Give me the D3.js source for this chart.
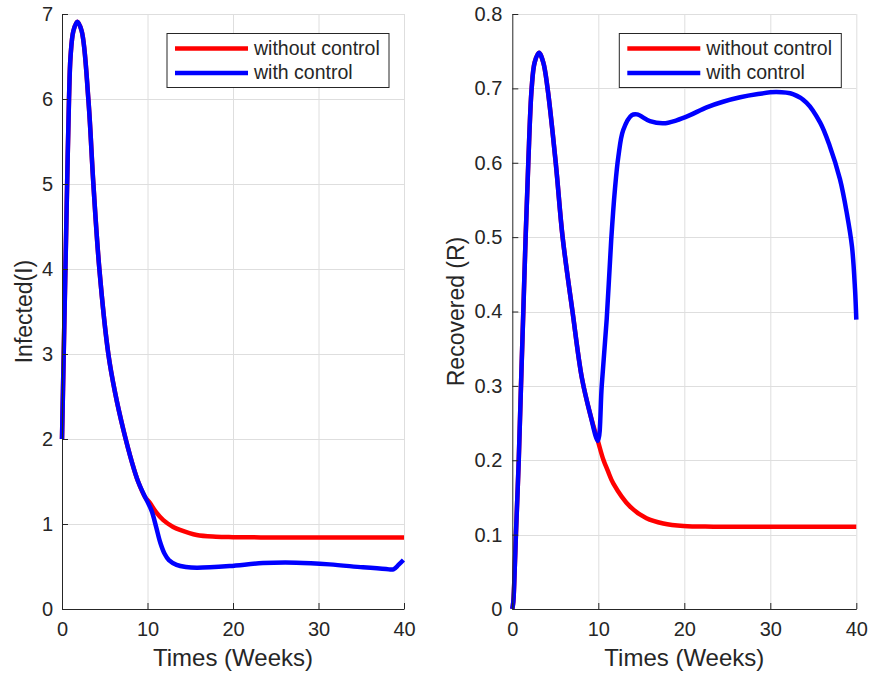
<!DOCTYPE html>
<html lang="en">
<head>
<meta charset="UTF-8">
<title>Infected and Recovered</title>
<script src="https://d3js.org/d3.v7.min.js"></script>
<style>
  body { margin: 0; background: #fff; }
  text { font-family: "Liberation Sans", Arial, sans-serif; fill: #262626; }
  .grid line { stroke: #dedede; stroke-width: 1; }
  .axis path, .axis line { stroke: #262626; stroke-width: 1; }
  .curve { fill: none; stroke-width: 4.5; stroke-linejoin: round; }
</style>
</head>
<body>
<script>
// ticks
var weekTicks = [0, 10, 20, 30, 40];
var infectedTicks = [0, 1, 2, 3, 4, 5, 6, 7];
var recoveredTicks = [0, 0.1, 0.2, 0.3, 0.4, 0.5, 0.6, 0.7, 0.8];
var legendLabels = ["without control", "with control"];

// Infected: both runs are the same until week ~10
var infTimeEarly = [0, 0.2, 0.4, 0.6, 0.82, 1.0, 1.33, 1.79, 2.3, 3.08, 3.67, 4.37, 5.42, 6.2, 7.2, 8.2, 8.9, 9.7];
var infEarly = [2, 3, 4, 5, 6, 6.5, 6.8, 6.91, 6.8, 6, 5, 4, 3, 2.55, 2.1, 1.72, 1.5, 1.32];
var infTimeNoCtrl = [10.3, 11, 11.85, 13, 13.8, 15.75, 18, 20, 25, 30, 35, 40];
var infNoCtrl = [1.245, 1.14, 1.045, 0.965, 0.93, 0.87, 0.85, 0.845, 0.842, 0.842, 0.842, 0.842];
var infTimeCtrl = [10, 10.5, 11, 11.5, 12, 12.5, 13.4, 14.5, 15.75, 19.6, 23.5, 27.4, 31.3, 35.2, 37.9, 38.76, 39.35, 39.93];
var infCtrl = [1.26, 1.15, 0.97, 0.78, 0.65, 0.575, 0.52, 0.495, 0.486, 0.505, 0.54, 0.545, 0.525, 0.49, 0.47, 0.467, 0.518, 0.576];

// Recovered
var recTimeEarly = [0, 0.12, 0.3, 0.42, 0.75, 1.01, 1.28, 1.55, 1.86, 2.25, 2.6, 3.1, 3.6, 4.1, 5.05, 5.85, 7.0, 8.1, 9.1, 9.95];
var recEarly = [0, 0.01, 0.06, 0.1, 0.2, 0.3, 0.4, 0.5, 0.6, 0.7, 0.735, 0.748, 0.735, 0.7, 0.6, 0.5, 0.4, 0.31, 0.26, 0.226];
var recTimeNoCtrl = [10.58, 11.1, 11.74, 13.7, 15.6, 17.56, 19.9, 23.4, 30, 40];
var recNoCtrl = [0.201, 0.186, 0.169, 0.1376, 0.122, 0.115, 0.1116, 0.1107, 0.1105, 0.1105];
var recTimeCtrl = [10.4, 10.98, 11.5, 11.94, 12.33, 12.9, 13.9, 14.5, 16.0, 17.56, 19.1, 20.66, 22.6, 24.5, 26.5, 28.4, 30.7, 32.7, 34.2, 35.8, 36.9, 38.1, 38.9, 39.5, 39.85, 40];
var recCtrl = [0.3, 0.39, 0.496, 0.565, 0.608, 0.644, 0.664, 0.665, 0.656, 0.653, 0.657, 0.664, 0.6745, 0.682, 0.688, 0.692, 0.695, 0.692, 0.681, 0.654, 0.623, 0.578, 0.532, 0.487, 0.43, 0.389];

function pairs(ts, vs) {
    return ts.map(function(t, i) { return [t, vs[i]]; });
}

var svg = d3.select("body").append("svg")
    .attr("width", 869).attr("height", 673);

function drawPanel(p) {
    var x = d3.scaleLinear().domain([0, 40]).range([p.left, p.right]);
    var y = d3.scaleLinear().domain(p.yDomain).range([609, 14]);
    var g = svg.append("g");

    // grid
    var grid = g.append("g").attr("class", "grid");
    grid.selectAll("line.gx").data(weekTicks.slice(1)).enter().append("line")
        .attr("x1", function(d) { return x(d) + 0.5; })
        .attr("x2", function(d) { return x(d) + 0.5; })
        .attr("y1", y.range()[0]).attr("y2", y.range()[1]);
    grid.selectAll("line.gy").data(p.ticks.slice(1)).enter().append("line")
        .attr("y1", function(d) { return Math.round(y(d)) + 0.5; })
        .attr("y2", function(d) { return Math.round(y(d)) + 0.5; })
        .attr("x1", p.left).attr("x2", p.right);

    // curves
    var line = d3.line()
        .x(function(d) { return x(d[0]); })
        .y(function(d) { return y(d[1]); })
        .curve(d3.curveCatmullRom.alpha(0.5));
    var early = pairs(p.tEarly, p.vEarly);
    g.append("path").attr("class", "curve").attr("stroke", "#ff0000")
        .attr("d", line(early.concat(pairs(p.tNo, p.vNo))));
    g.append("path").attr("class", "curve").attr("stroke", "#0000ff")
        .attr("d", line(early.concat(pairs(p.tCtrl, p.vCtrl))));

    // axes, ticks pointing inward
    g.append("g").attr("class", "axis")
        .attr("transform", "translate(0,609)")
        .call(d3.axisBottom(x).tickValues(weekTicks).tickSizeInner(-6).tickSizeOuter(0).tickPadding(13))
        .call(function(a) { a.selectAll("text").attr("font-size", 20).attr("fill", "#262626").attr("font-family", null); });
    g.append("g").attr("class", "axis")
        .attr("transform", "translate(" + p.left + ",0)")
        .call(d3.axisLeft(y).tickValues(p.ticks).tickFormat(d3.format("~g")).tickSizeInner(-6).tickSizeOuter(0).tickPadding(p.pad))
        .call(function(a) { a.selectAll("text").attr("font-size", 20).attr("fill", "#262626").attr("font-family", null); });

    // labels
    g.append("text")
        .attr("x", (p.left + p.right) / 2).attr("y", 666)
        .attr("text-anchor", "middle").attr("font-size", 24)
        .text("Times (Weeks)");
    g.append("text")
        .attr("transform", "translate(" + p.labelX + ",311.5) rotate(-90)")
        .attr("text-anchor", "middle").attr("font-size", 23)
        .text(p.label);

    // legend
    var lx = p.right - 237, ly = 33.5;
    var lg = g.append("g").attr("transform", "translate(" + lx + "," + ly + ")");
    lg.append("rect").attr("width", 222).attr("height", 54)
        .attr("fill", "#fff").attr("stroke", "#262626").attr("stroke-width", 1);
    var colors = ["#ff0000", "#0000ff"];
    legendLabels.forEach(function(name, i) {
        var yy = 15 + i * 24.4;
        lg.append("line").attr("x1", 8).attr("x2", 81).attr("y1", yy).attr("y2", yy)
            .attr("stroke", colors[i]).attr("stroke-width", 4.5);
        lg.append("text").attr("x", 87).attr("y", yy + 6.5)
            .attr("font-size", 19.5).text(name);
    });
}

drawPanel({
    left: 62, right: 404, yDomain: [0, 7], ticks: infectedTicks, pad: 9,
    label: "Infected(I)", labelX: 32,
    tEarly: infTimeEarly, vEarly: infEarly,
    tNo: infTimeNoCtrl, vNo: infNoCtrl,
    tCtrl: infTimeCtrl, vCtrl: infCtrl
});
drawPanel({
    left: 512.3, right: 856.3, yDomain: [0, 0.8], ticks: recoveredTicks, pad: 10,
    label: "Recovered (R)", labelX: 464,
    tEarly: recTimeEarly, vEarly: recEarly,
    tNo: recTimeNoCtrl, vNo: recNoCtrl,
    tCtrl: recTimeCtrl, vCtrl: recCtrl
});
</script>
</body>
</html>
